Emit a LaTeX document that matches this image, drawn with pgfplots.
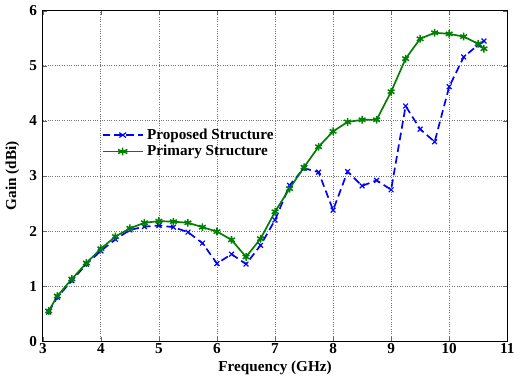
\documentclass[border=0pt]{standalone}
\usepackage{fontspec}
\setmainfont{Liberation Serif}
\usepackage{pgfplots}
\pgfplotsset{compat=1.18}
\begin{document}
\begin{tikzpicture}
\begin{axis}[
  scale only axis, width=274bp, height=195bp,
  xmin=3, xmax=11, ymin=0, ymax=6,
  xtick={3,4,...,11}, ytick={0,1,...,6},
  grid=major, grid style={black!55, densely dotted, line width=0.5pt},
  tick align=inside, major tick length=2.5pt, tick style={black!60},
  axis line style={black, line width=0.6pt},
  /pgf/number format/assume math mode=true,
  ticklabel style={font=\bfseries\small},
  xticklabel style={yshift=2pt},
  yticklabel style={xshift=0pt},
  xlabel={\bfseries Frequency (GHz)}, ylabel={\bfseries Gain (dBi)},
  label style={font=\small},
  xlabel style={yshift=3pt}, ylabel style={yshift=-1pt},
  legend style={draw=none, fill=none, at={(0.115,0.665)}, anchor=north west, font=\bfseries\small, row sep=-2pt},
  legend cell align=left,
  legend image post style={xscale=1.4},
]
\addplot[blue, dash pattern=on 4.5pt off 2.5pt, line width=1pt, mark=x, mark size=2pt, mark options={solid, line width=0.7pt}] coordinates {
(3.1,0.53)(3.25,0.8)(3.5,1.1)(3.75,1.4)(4.0,1.64)(4.25,1.85)(4.5,2.02)(4.75,2.08)(5.0,2.1)(5.25,2.07)(5.5,1.98)(5.75,1.78)(6.0,1.41)(6.25,1.58)(6.5,1.4)(6.75,1.74)(7.0,2.2)(7.25,2.83)(7.5,3.14)(7.75,3.07)(8.0,2.38)(8.25,3.08)(8.5,2.82)(8.75,2.92)(9.0,2.75)(9.25,4.27)(9.5,3.85)(9.75,3.62)(10.0,4.62)(10.25,5.16)(10.5,5.38)(10.6,5.45)};
\addlegendentry{Proposed Structure}
\addplot[green!50!black, line width=1pt, mark=asterisk, mark size=2.3pt, mark options={line width=0.9pt}] coordinates {
(3.1,0.55)(3.25,0.82)(3.5,1.13)(3.75,1.42)(4.0,1.68)(4.25,1.9)(4.5,2.05)(4.75,2.15)(5.0,2.18)(5.25,2.17)(5.5,2.15)(5.75,2.07)(6.0,1.99)(6.25,1.84)(6.5,1.53)(6.75,1.86)(7.0,2.35)(7.25,2.77)(7.5,3.16)(7.75,3.53)(8.0,3.81)(8.25,3.98)(8.5,4.02)(8.75,4.02)(9.0,4.53)(9.25,5.13)(9.5,5.49)(9.75,5.6)(10.0,5.58)(10.25,5.53)(10.5,5.4)(10.6,5.31)};
\addlegendentry{Primary Structure}
\end{axis}
\end{tikzpicture}
\end{document}
